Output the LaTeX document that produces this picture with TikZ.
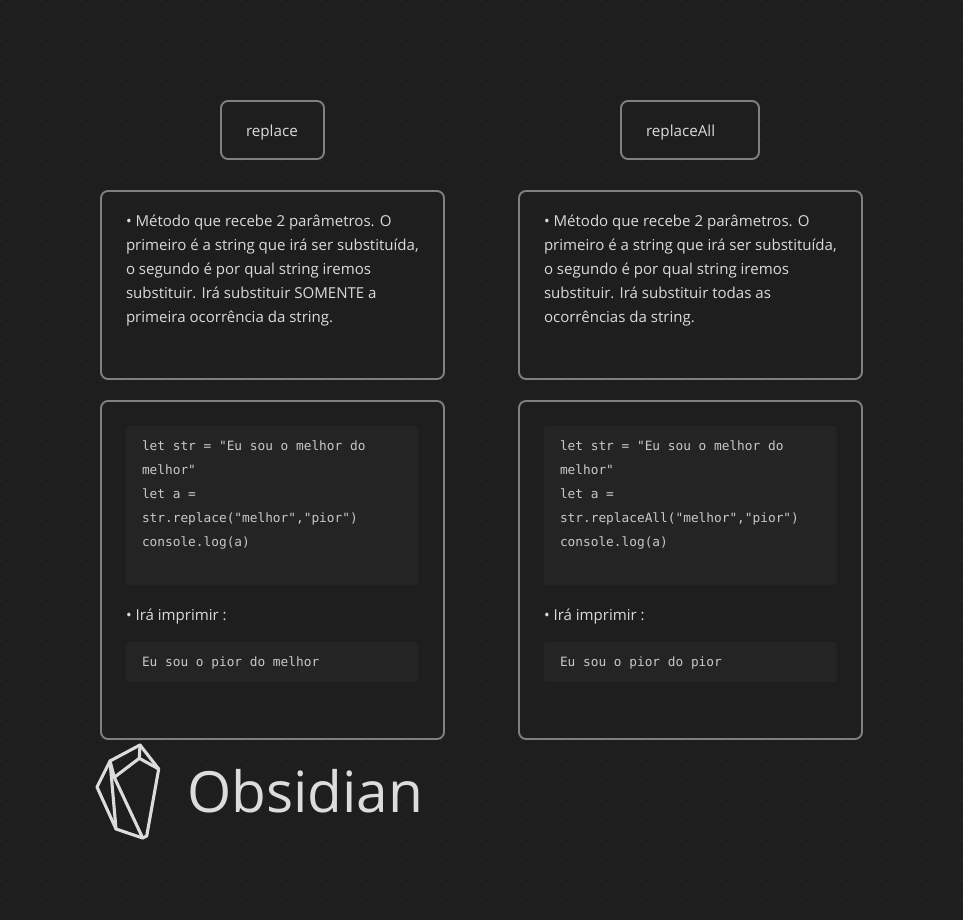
\documentclass[tikz,border=0pt]{standalone}
\usepackage{fontspec}
\setmainfont{Open Sans}
\newfontfamily\codefont{DejaVu Sans Mono}
\definecolor{bgc}{HTML}{1E1E1E}
\definecolor{dotc}{HTML}{323232}
\definecolor{edgec}{HTML}{808080}
\definecolor{codebg}{HTML}{242424}
\definecolor{txtc}{HTML}{DADADA}
\definecolor{codec}{HTML}{C8C8C8}
\definecolor{logoc}{HTML}{DCDCDC}
\tikzset{
  x=1pt,y=-1pt,
  card/.style={draw=edgec,line width=1.9pt,rounded corners=7pt,fill=bgc,inner sep=0pt,outer sep=0pt},
  codebox/.style={fill=codebg,rounded corners=3pt,inner sep=0pt,outer sep=0pt},
  body/.style={anchor=north west,inner sep=0pt,outer sep=0pt,align=left,text=txtc,font=\fontsize{15.05}{24}\selectfont},
  code/.style={anchor=north west,inner sep=0pt,outer sep=0pt,align=left,text=codec,font=\codefont\fontsize{12.8}{24}\selectfont},
  title/.style={anchor=west,inner sep=0pt,outer sep=0pt,text=txtc,font=\fontsize{15.2}{18}\selectfont},
  logo/.style={draw=logoc,line width=3.1pt,line join=round,line cap=round}
}
\begin{document}
\begin{tikzpicture}
\useasboundingbox (0,0) rectangle (963,920);
\fill[bgc] (0,0) rectangle (963,920);
\foreach \i in {0,...,48}{\foreach \j in {0,...,46}{
  \fill[dotc] (20*\i+0.0,20*\j+0.0) rectangle +(1.4,1.4);
}}
% titles
\draw[card] (221,101) rectangle (324,159);
\draw[card] (621,101) rectangle (759,159);
\node[title] (tl) at (246,133) {replace};
\node[title] (tr) at (646,133) {replaceAll};
% cards
\draw[card] (101,191) rectangle (444,379);
\draw[card] (519,191) rectangle (862,379);
\draw[card] (101,401) rectangle (444,739);
\draw[card] (519,401) rectangle (862,739);
\node[body] (dl) at (126,215) {• Método que recebe 2 parâmetros. O\\primeiro é a string que irá ser substituída,\\o segundo é por qual string iremos\\substituir. Irá substituir SOMENTE a\\primeira ocorrência da string.};
\node[body] (dr) at (544,215) {• Método que recebe 2 parâmetros. O\\primeiro é a string que irá ser substituída,\\o segundo é por qual string iremos\\substituir. Irá substituir todas as\\ocorrências da string.};
% code
\fill[codebox] (126,426) rectangle (418,585);
\fill[codebox] (544,426) rectangle (837,585);
\fill[codebox] (126,642) rectangle (418,682);
\fill[codebox] (544,642) rectangle (837,682);
\node[code] (cl) at (142,441) {let str = "Eu sou o melhor do\\melhor"\\let a =\\str.replace("melhor","pior")\\console.log(a)};
\node[code] (cr) at (560,441) {let str = "Eu sou o melhor do\\melhor"\\let a =\\str.replaceAll("melhor","pior")\\console.log(a)};
\node[body] (il) at (126,609) {• Irá imprimir :};
\node[body] (ir) at (544,609) {• Irá imprimir :};
\node[code] (ol) at (142,657) {Eu sou o pior do melhor};
\node[code] (or) at (560,657) {Eu sou o pior do pior};
% logo
\draw[logo] (140,745) -- (110,761) -- (97,787) -- (116,829) -- (142.7,838) -- (146.7,836) -- (158.7,769) -- cycle;
\draw[logo] (110,761) -- (116,829);
\draw[logo] (140,745) -- (139.3,758.3) -- (158.7,769);
\draw[logo] (139.3,758.3) -- (114.3,777.3);
\draw[logo] (110,761) -- (114.3,777.3) -- (142.7,838);
\node[anchor=base west,inner sep=0pt,text=logoc,font=\fontsize{56.8}{60}\selectfont] (brand) at (187,812) {Obsidian};
\end{tikzpicture}
\end{document}
